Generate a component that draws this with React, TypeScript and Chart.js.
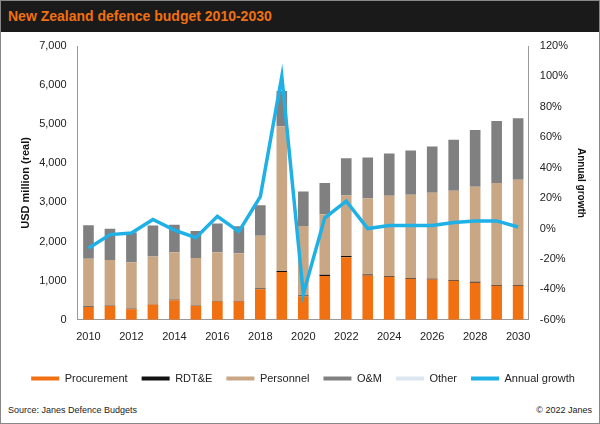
import React, { useEffect, useRef } from "react";
import Chart from "chart.js/auto";

const years = ["2010","2011","2012","2013","2014","2015","2016","2017","2018","2019","2020","2021","2022","2023","2024","2025","2026","2027","2028","2029","2030"];
const procurement = [330,350,270,390,500,350,470,470,780,1220,600,1120,1600,1130,1100,1050,1030,1000,950,870,870];
const rdte = [10,10,10,10,10,10,10,10,20,30,20,30,30,30,20,20,20,20,20,20,20];
const personnel = [1220,1170,1190,1220,1220,1220,1250,1220,1350,3700,1780,1550,1550,1940,2050,2130,2200,2280,2430,2610,2690];
const om = [860,800,760,790,700,690,730,690,780,900,880,800,950,1050,1080,1130,1180,1300,1450,1580,1570];
const other = [0,0,0,0,0,0,0,0,0,0,0,0,0,0,0,0,0,0,0,0,0];
const growth = [-13,-4,-3,6,-1,-6,8,-2,21,100,-43,7,18,0,2,2,2,4,5,5,1];
const leftTicks = [0,1000,2000,3000,4000,5000,6000,7000];

export default function App() {
  const ref = useRef<HTMLCanvasElement>(null);
  useEffect(() => {
    document.body.style.margin = "0";
    const ch = new Chart(ref.current!, {
      data: {
        labels: years,
        datasets: [
          { type: "line", label: "Annual growth", data: growth, yAxisID: "y1", borderColor: "#1fb0e6", backgroundColor: "#1fb0e6", borderWidth: 3.5, pointRadius: 0, tension: 0, order: 0 },
          { type: "bar", label: "Procurement", data: procurement, backgroundColor: "#f07012", stack: "s", order: 1 },
          { type: "bar", label: "RDT&E", data: rdte, backgroundColor: "#111111", stack: "s", order: 1 },
          { type: "bar", label: "Personnel", data: personnel, backgroundColor: "#c9a784", stack: "s", order: 1 },
          { type: "bar", label: "O&M", data: om, backgroundColor: "#808080", stack: "s", order: 1 },
          { type: "bar", label: "Other", data: other, backgroundColor: "#dce6f0", stack: "s", order: 1 },
        ] as any,
      },
      options: {
        animation: false,
        responsive: false,
        maintainAspectRatio: false,
        layout: { padding: { left: 14, right: 8, top: 14, bottom: 0 } },
        datasets: { bar: { categoryPercentage: 0.9, barPercentage: 0.55 } } as any,
        plugins: {
          legend: {
            position: "bottom",
            labels: {
              font: { family: "Liberation Sans", size: 11 }, color: "#222",
              boxWidth: 28, boxHeight: 4, padding: 14,
              sort: (a: any, b: any) => (a.text === "Annual growth" ? 1 : b.text === "Annual growth" ? -1 : a.datasetIndex - b.datasetIndex),
              generateLabels: (c: any) => Chart.defaults.plugins.legend.labels.generateLabels(c).map((l: any) => ({ ...l, lineWidth: 0, fillStyle: (c.data.datasets[l.datasetIndex] as any).backgroundColor })),
            },
          },
          tooltip: { enabled: false },
        },
        scales: {
          x: {
            stacked: true,
            grid: { display: false },
            border: { color: "#999" },
            afterFit: (s: any) => { s.height += 12; },
            ticks: { color: "#222", font: { family: "Liberation Sans", size: 11 }, autoSkip: false, maxRotation: 0, callback: (_v: any, i: number) => (i % 2 === 0 ? years[i] : "") },
          },
          y: {
            stacked: true, min: 0, max: 7000,
            grid: { display: false },
            border: { color: "#999" },
            afterBuildTicks: (s: any) => { s.ticks = leftTicks.map((v) => ({ value: v })); },
            ticks: { color: "#222", font: { family: "Liberation Sans", size: 11 }, callback: (v: any) => Number(v).toLocaleString("en-US") },
            title: { display: true, text: "USD million (real)", font: { family: "Liberation Sans", size: 11, weight: "bold" }, color: "#111" },
          },
          y1: {
            position: "right", min: -60, max: 120,
            grid: { display: false },
            border: { color: "#999" },
            ticks: { stepSize: 20, color: "#222", font: { family: "Liberation Sans", size: 11 }, callback: (v: any) => v + "%" },
            title: { display: true, text: "Annual growth", font: { family: "Liberation Sans", size: 10, weight: "bold" }, color: "#111" },
          },
        },
      } as any,
    });
    return () => ch.destroy();
  }, []);
  return (
    <div style={{ position: "relative", width: 600, height: 424, background: "#fff", fontFamily: "Liberation Sans, Arial, sans-serif", overflow: "hidden", boxSizing: "border-box", border: "1px solid #888" }}>
      <div style={{ height: 31, background: "#1a1a1a", color: "#f07012", fontWeight: "bold", fontSize: 14, lineHeight: "31px", paddingLeft: 7 }}>
        New Zealand defence budget 2010-2030
      </div>
      <canvas ref={ref} width={598} height={362} style={{ display: "block" }} />
      <div style={{ position: "absolute", left: 7, top: 404, fontSize: 9, color: "#222" }}>Source: Janes Defence Budgets</div>
      <div style={{ position: "absolute", right: 7, top: 404, fontSize: 9, color: "#222" }}>© 2022 Janes</div>
    </div>
  );
}
